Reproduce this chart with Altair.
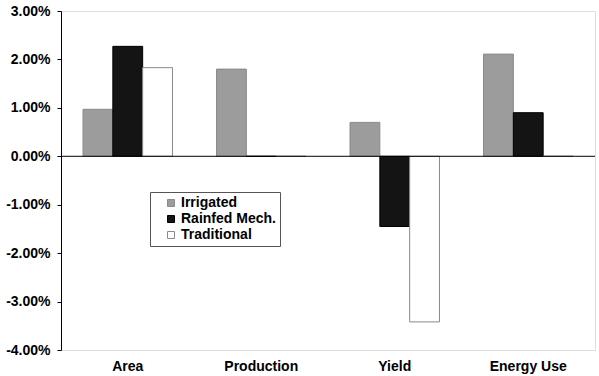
import altair as alt
import pandas as pd

categories = ["Area", "Production", "Yield", "Energy Use"]
series = ["Irrigated", "Rainfed Mech.", "Traditional"]
irrigated = [0.0097, 0.0180, 0.0070, 0.0211]
rainfed = [0.0227, 0.0, -0.0145, 0.0090]
traditional = [0.0183, 0.0, -0.0342, 0.0]
y_ticks = [-0.04, -0.03, -0.02, -0.01, 0.0, 0.01, 0.02, 0.03]

rows = []
for i, c in enumerate(categories):
    for s, vals in zip(series, [irrigated, rainfed, traditional]):
        rows.append({"category": c, "series": s, "value": vals[i]})
df = pd.DataFrame(rows)

font = "Liberation Sans"

bars = alt.Chart(df).mark_bar(strokeWidth=1).encode(
    x=alt.X("category:N", sort=categories, title=None,
            scale=alt.Scale(paddingInner=0.33, paddingOuter=0.165),
            axis=alt.Axis(labelAngle=0, domain=False, ticks=False, labelPadding=9,
                          labelFont=font, labelFontWeight="bold", labelFontSize=14,
                          labelColor="black")),
    xOffset=alt.XOffset("series:N", sort=series),
    y=alt.Y("value:Q", title=None,
            scale=alt.Scale(domain=[-0.04, 0.03], nice=False, zero=False),
            axis=alt.Axis(values=y_ticks, format=".2%", grid=False, domainColor="black",
                          tickColor="black", tickSize=4, labelPadding=7,
                          labelExpr="replace(datum.label, '\u2212', '-')",
                          labelFont=font, labelFontWeight="bold", labelFontSize=14,
                          labelColor="black")),
    color=alt.Color("series:N", sort=series, title=None,
                    scale=alt.Scale(domain=series, range=["#9c9c9c", "#141414", "#ffffff"]),
                    legend=alt.Legend(orient="none", legendX=89, legendY=181,
                                      symbolType="square", symbolSize=49,
                                      symbolStrokeColor="#555", symbolStrokeWidth=1,
                                      labelFont=font, labelFontWeight="bold", labelFontSize=14,
                                      labelColor="black", strokeColor="#555",
                                      padding=4, symbolOffset=10, labelOffset=3,
                                      rowPadding=2, labelLimit=200)),
    stroke=alt.Stroke("series:N", sort=series, legend=None,
                      scale=alt.Scale(domain=series, range=["#8a8a8a", "#000000", "#8a8a8a"])),
)

zero = alt.Chart(pd.DataFrame({"z": [0.0]})).mark_rule(color="black", strokeWidth=1).encode(
    y=alt.Y("z:Q")
)

chart = alt.layer(bars, zero).properties(
    width=534, height=339,
    autosize=alt.AutoSizeParams(type="none"),
    padding={"left": 61, "top": 11, "right": 4, "bottom": 26},
).configure_view(stroke="#555", strokeWidth=1).configure_legend(
    strokeDash=[3, 2]
).configure(background="white")

chart.save("out.html", embed_options={"renderer": "svg", "actions": False})
